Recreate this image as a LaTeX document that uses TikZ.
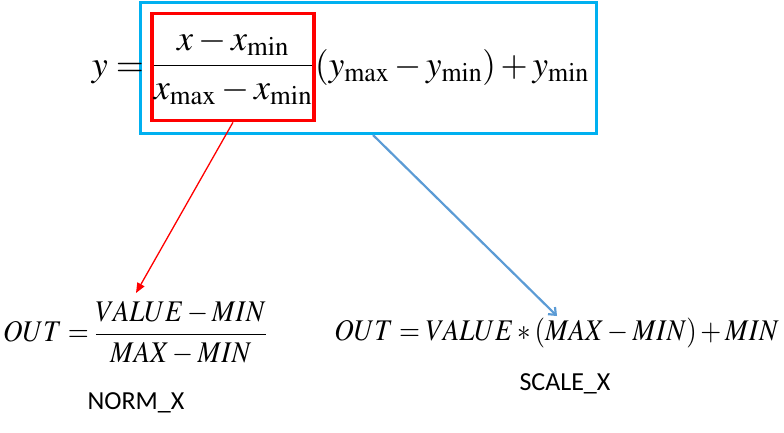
\documentclass[tikz,border=0pt]{standalone}
\usepackage{mathptmx}
\usepackage{fontspec}
\usepackage{tikz}
\usetikzlibrary{arrows.meta,positioning}
\newfontfamily\lblfont{Carlito}
\definecolor{boxblue}{RGB}{0,176,240}
\definecolor{arrowblue}{RGB}{91,155,213}
\newcommand{\narrow}[1]{\scalebox{0.9}[1]{#1}}

\begin{document}
\begin{tikzpicture}[x=1pt,y=-1pt,
  bigeq/.style={inner sep=0pt,font=\fontsize{36}{40}\selectfont},
  smalleq/.style={inner sep=0pt,font=\fontsize{30}{34}\selectfont},
  caption/.style={inner sep=0pt,font=\lblfont\fontsize{26}{30}\selectfont}]
  \useasboundingbox (0,0) rectangle (784,432);
  % top formula with its two boxes
  \node[draw=boxblue,line width=3pt,minimum width=456pt,minimum height=131pt,inner sep=0pt] (scalebox) at (368.5,68) {};
  \node[bigeq,draw=red,line width=3.5pt,minimum width=162pt,minimum height=107pt] (normbox) at (233,67)
    {$\displaystyle\frac{x-x_{\min}}{x_{\max}-x_{\min}}$};
  \node[bigeq,anchor=base east] (lhs) at (144,76) {$y=$};
  \node[bigeq,anchor=base west] (rhs) at (315,76) {\scalebox{0.97}[1]{$(y_{\max}-y_{\min})+y_{\min}$}};
  % bottom formulas
  \node[smalleq,anchor=west] (normeq) at (3,333) {\narrow{$OUT=\displaystyle\frac{VALUE-MIN}{MAX-MIN}$}};
  \node[caption] (normlbl) at (136,403) {NORM\_X};
  \node[smalleq,anchor=east] (scaleeq) at (779,333) {\narrow{$OUT=VALUE*(MAX-MIN)+MIN$}};
  \node[caption] (scalelbl) at (565,384) {SCALE\_X};
  \coordinate (normtip) at (136,293);
  \coordinate (scaletip) at (557,316);
  \draw[red,line width=1.3pt,-{Triangle[length=10pt,width=8pt]}] (normbox.south) -- (normtip);
  \draw[arrowblue,line width=2.2pt,-{Straight Barb[length=6pt,width=10pt]}] ([xshift=4.5pt]scalebox.south) -- (scaletip);
\end{tikzpicture}
\end{document}
